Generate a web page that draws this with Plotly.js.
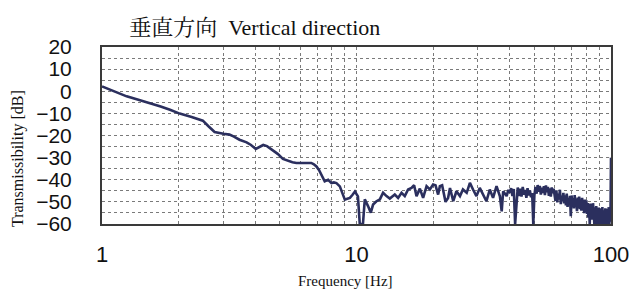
<!DOCTYPE html>
<html>
<head>
<meta charset="utf-8">
<script src="https://cdn.plot.ly/plotly-3.0.1.min.js"></script>
<style>
  html, body { margin: 0; padding: 0; background: #ffffff; }
  #chart { width: 636px; height: 291px; }
</style>
</head>
<body>
<div id="chart"></div>
<script>
// ---- Data ----
const freqLow = [1.0, 1.1, 1.25, 1.4, 1.54, 1.7, 1.85, 2.02, 2.25, 2.49, 2.62, 2.77, 3.0, 3.17, 3.3, 3.47, 3.7, 3.85, 4.02, 4.15, 4.3, 4.45, 4.63, 4.9, 5.14, 5.4, 5.6, 5.81, 6.1, 6.4, 6.64, 6.8, 6.96, 7.12, 7.28, 7.5, 7.74, 7.97, 8.15, 8.34, 8.6, 8.8, 9.0, 9.2, 9.42, 9.65, 9.86, 10.13];
const dbLow   = [2.2, 0.2, -2.3, -4.0, -5.3, -6.9, -8.4, -10.1, -11.6, -13.3, -15.8, -18.4, -19.2, -19.6, -20.5, -21.9, -23.1, -24.3, -26.1, -25.3, -24.3, -24.8, -26.1, -28.3, -30.6, -31.6, -32.1, -32.4, -32.3, -32.4, -32.4, -33.0, -34.0, -35.6, -37.7, -40.7, -40.0, -41.5, -41.2, -41.5, -43.0, -46.2, -49.0, -48.6, -48.2, -46.8, -45.3, -47.5];

const freqMid = [10.3, 10.6, 10.78, 11.1, 11.38, 11.62, 11.98, 12.35, 12.72, 13.12, 13.52, 14.14, 14.57, 15.03, 15.48, 15.95, 16.45, 16.84, 17.21, 17.74, 18.27, 18.85, 19.42, 20.0, 20.44, 20.93, 21.26, 21.7, 22.38, 22.9, 23.3, 24.0, 24.7, 25.5, 26.2, 27.1, 27.9, 28.7, 29.6, 30.5, 31.4, 32.4, 33.4, 34.4, 35.5, 36.6, 37.2, 37.7, 38.9, 39.5];
const dbMid   = [-60, -60, -48.9, -51.9, -54.9, -51.2, -49.7, -48.9, -45.9, -47.4, -48.5, -46.7, -48.2, -45.9, -47.4, -44.4, -43.7, -42.5, -47.4, -44.0, -48.2, -42.9, -44.4, -42.2, -42.5, -46.7, -42.9, -42.5, -50.0, -48.2, -43.7, -49.7, -45.2, -47.4, -44.4, -45.9, -41.4, -44.4, -47.4, -43.7, -46.7, -49.7, -44.4, -48.2, -42.9, -47.5, -54.3, -45.2, -47.4, -44.6];

const freqHigh = [
  40.0, 40.5, 41.0, 41.5, 42.0, 42.5, 43.0, 43.5, 44.0, 44.5,
  45.0, 45.5, 46.0, 46.5, 47.0, 47.5, 48.0, 48.5, 49.0, 49.5,
  50.0, 50.5, 51.0, 51.5, 52.0, 52.5, 53.0, 53.5, 54.0, 54.5,
  55.0, 55.5, 56.0, 56.5, 57.0, 57.5, 58.0, 58.5, 59.0, 59.5,
  60.0, 60.5, 61.0, 61.5, 62.0, 62.5, 63.0, 63.5, 64.0, 64.5,
  65.0, 65.5, 66.0, 66.5, 67.0, 67.5, 68.0, 68.5, 69.0, 69.5,
  70.0, 70.5, 71.0, 71.5, 72.0, 72.5, 73.0, 73.5, 74.0, 74.5,
  75.0, 75.5, 76.0, 76.5, 77.0, 77.5, 78.0, 78.5, 79.0, 79.5,
  80.0, 80.5, 81.0, 81.5, 82.0, 82.5, 83.0, 83.5, 84.0, 84.5,
  85.0, 85.5, 86.0, 86.5, 87.0, 87.5, 88.0, 88.5, 89.0, 89.5,
  90.0, 90.5, 91.0, 91.5, 92.0, 92.5, 93.0, 93.5, 94.0, 94.5,
  95.0, 95.5, 96.0, 96.5, 97.0, 97.5, 98.0, 98.5, 99.0, 99.5,
  100.0];
const dbHigh = [
  -45.9, -43.8, -47.4, -44.2, -60.0, -48.5, -43.5, -47.3, -44.1, -47.6,
  -43.2, -46.8, -44.6, -48.2, -43.8, -47.1, -44.9, -47.9, -46.0, -60.0,
  -47.0, -43.2, -46.3, -42.4, -45.4, -42.8, -46.7, -43.6, -46.0, -42.9,
  -46.9, -42.6, -45.7, -43.2, -47.3, -43.9, -47.6, -43.5, -46.1, -44.0,
  -46.0, -49.5, -44.8, -50.2, -46.3, -48.9, -44.5, -51.0, -47.2, -49.8,
  -45.9, -50.7, -47.0, -51.6, -46.2, -52.3, -48.4, -50.1, -47.3, -56.5,
  -47.1, -52.4, -48.3, -53.0, -46.9, -51.7, -49.5, -54.2, -48.0, -52.8,
  -47.6, -53.3, -49.1, -54.0, -48.2, -52.9, -50.6, -55.1, -49.0, -53.7,
  -49.3, -55.4, -50.5, -57.1, -51.2, -60.0, -50.8, -56.5, -52.0, -58.0,
  -50.6, -57.2, -60.0, -52.4, -58.5, -51.9, -60.0, -53.5, -60.0, -52.6,
  -58.6, -52.9, -60.0, -54.1, -60.0, -52.3, -60.0, -55.2, -53.8, -60.0,
  -52.9, -60.0, -55.4, -53.1, -60.0, -56.3, -52.4, -60.0, -54.7, -59.0,
  -30.0];

const xTickVals = [1, 2, 3, 4, 5, 6, 7, 8, 9, 10, 20, 30, 40, 50, 60, 70, 80, 90, 100];
const xTickText = ['1', '', '', '', '', '', '', '', '', '10', '', '', '', '', '', '', '', '', '100'];
const yTickVals = [20, 15, 10, 5, 0, -5, -10, -15, -20, -25, -30, -35, -40, -45, -50, -55, -60];
const yTickText = ['20', '', '10', '', '0', '', '\u221210', '', '\u221220', '', '\u221230', '', '\u221240', '', '\u221250', '', '\u221260'];

const titleText = '垂直方向\u00a0\u00a0Vertical direction';
const xTitleText = 'Frequency [Hz]';
const yTitleText = 'Transmissibility [dB]';

// ---- Build ----
const freq = freqLow.concat(freqMid, freqHigh);
const db = dbLow.concat(dbMid, dbHigh);

const serif = '"Liberation Serif", "Noto Serif CJK JP", "Noto Sans CJK JP", serif';
const sans = '"Liberation Sans", Arial, sans-serif';

const trace = {
  x: freq,
  y: db,
  type: 'scatter',
  mode: 'lines',
  line: { color: '#2b2f5e', width: 2.6 },
  hoverinfo: 'skip'
};

const layout = {
  width: 636,
  height: 291,
  margin: { l: 102, r: 25, t: 47, b: 67 },
  paper_bgcolor: '#ffffff',
  plot_bgcolor: '#ffffff',
  showlegend: false,
  title: {
    text: titleText,
    font: { family: serif, size: 22, color: '#111111' },
    xref: 'paper', x: 0.30, xanchor: 'center',
    yref: 'container', y: 0.905, yanchor: 'middle'
  },
  xaxis: {
    type: 'log',
    range: [0, 2],
    tickmode: 'array',
    tickvals: xTickVals,
    ticktext: xTickText,
    ticks: '',
    ticklabelstandoff: 10,
    tickfont: { family: sans, size: 22, color: '#111111' },
    showgrid: true,
    gridcolor: '#7a7a7a',
    griddash: 'dot',
    gridwidth: 1,
    showline: true,
    mirror: true,
    linecolor: '#3a3a3a',
    linewidth: 2,
    zeroline: false,
    fixedrange: true
  },
  yaxis: {
    range: [-60, 20],
    tickmode: 'array',
    tickvals: yTickVals,
    ticktext: yTickText,
    ticks: '',
    ticklabelstandoff: 24,
    tickfont: { family: sans, size: 21, color: '#111111' },
    showgrid: true,
    gridcolor: '#7a7a7a',
    griddash: 'dot',
    gridwidth: 1,
    showline: true,
    mirror: true,
    linecolor: '#3a3a3a',
    linewidth: 2,
    zeroline: false,
    fixedrange: true
  },
  annotations: [
    {
      text: xTitleText,
      xref: 'paper', yref: 'paper',
      x: 0.478, y: -0.32,
      xanchor: 'center', yanchor: 'middle',
      showarrow: false,
      font: { family: serif, size: 15, color: '#111111' }
    },
    {
      text: yTitleText,
      xref: 'paper', yref: 'paper',
      x: -0.166, y: 0.37,
      xanchor: 'center', yanchor: 'middle',
      textangle: -90,
      showarrow: false,
      font: { family: serif, size: 16, color: '#111111' }
    }
  ]
};

Plotly.newPlot('chart', [trace], layout, { staticPlot: true, displayModeBar: false });
</script>
</body>
</html>
